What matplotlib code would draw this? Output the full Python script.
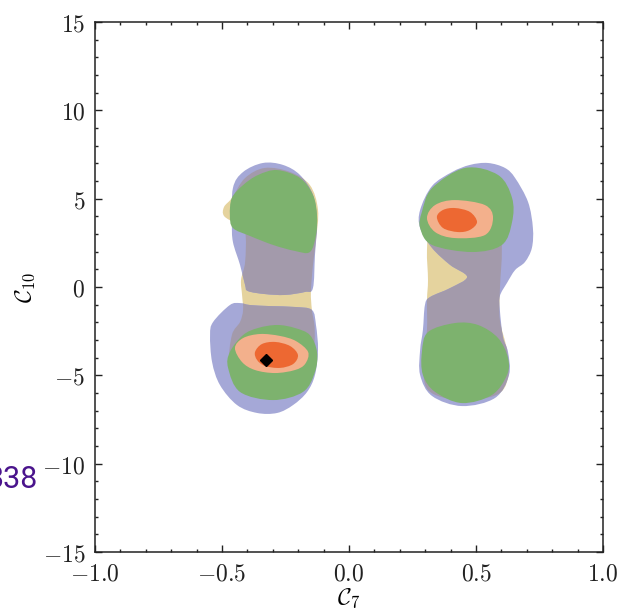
import matplotlib
matplotlib.use("Agg")
import matplotlib.pyplot as plt
from matplotlib.path import Path
from matplotlib.patches import PathPatch
from matplotlib.ticker import MultipleLocator, FuncFormatter

plt.rcParams['mathtext.fontset'] = 'cm'

# ---------------- data (C7, C10) ----------------
# blue region (left: upper and lower lobes, right: one lobe)
blue_ul_x = [-0.339, -0.260, -0.193, -0.142, -0.126, -0.134, -0.142, -0.173, -0.252, -0.331, -0.398, -0.409, -0.429, -0.457, -0.461, -0.457, -0.417]
blue_ul_y = [7.02, 6.91, 6.34, 5.21, 3.68, 1.81, -0.06, -0.28, -0.45, -0.40, -0.23, 0.11, 1.25, 2.55, 3.68, 5.60, 6.51]
blue_ll_x = [-0.429, -0.469, -0.535, -0.547, -0.539, -0.508, -0.441, -0.362, -0.283, -0.220, -0.165, -0.134, -0.122, -0.130, -0.146, -0.213, -0.311, -0.390]
blue_ll_y = [-0.91, -1.02, -1.98, -2.72, -4.25, -5.55, -6.68, -7.13, -7.13, -6.68, -5.94, -4.98, -3.57, -2.15, -1.30, -1.13, -1.08, -1.02]
blue_r_x = [0.547, 0.614, 0.654, 0.705, 0.724, 0.720, 0.693, 0.654, 0.622, 0.594, 0.594, 0.606, 0.626, 0.630, 0.575, 0.445, 0.327, 0.280, 0.280, 0.291, 0.299, 0.319, 0.398, 0.465, 0.398, 0.327, 0.280, 0.280, 0.327, 0.406, 0.476]
blue_r_y = [7.02, 6.74, 6.17, 4.81, 3.34, 2.21, 1.42, 0.96, 0.23, -0.51, -1.30, -2.83, -3.68, -4.98, -6.28, -6.74, -6.17, -4.98, -3.57, -2.43, -1.02, -0.57, -0.06, 0.57, 1.25, 2.21, 3.34, 4.36, 5.72, 6.51, 6.91]

# tan region
tan_l_x = [-0.331, -0.232, -0.154, -0.122, -0.130, -0.142, -0.150, -0.146, -0.135, -0.145, -0.200, -0.311, -0.420, -0.470, -0.461, -0.429, -0.417, -0.421, -0.425, -0.409, -0.409, -0.445, -0.492, -0.492, -0.461, -0.409]
tan_l_y = [6.74, 6.51, 5.77, 4.36, 2.66, 1.25, -0.28, -1.30, -2.43, -4.13, -5.70, -6.30, -5.90, -4.42, -2.72, -1.98, -1.30, -0.45, 0.40, 1.42, 3.11, 3.57, 4.02, 4.53, 5.04, 6.17]
tan_r_x = [0.358, 0.555, 0.600, 0.594, 0.594, 0.622, 0.626, 0.580, 0.437, 0.311, 0.295, 0.307, 0.307, 0.311, 0.307, 0.319]
tan_r_y = [4.92, 4.92, 2.66, -0.17, -1.87, -3.57, -5.15, -6.11, -6.40, -5.83, -4.13, -2.43, -0.74, 0.40, 2.09, 3.79]

# green regions
green_ul_x = [-0.283, -0.193, -0.142, -0.126, -0.130, -0.154, -0.213, -0.299, -0.390, -0.457, -0.469, -0.461, -0.417, -0.358]
green_ul_y = [6.62, 6.17, 5.21, 4.08, 2.94, 1.98, 2.04, 2.38, 2.89, 3.34, 4.08, 5.04, 5.77, 6.34]
green_ll_x = [-0.283, -0.213, -0.154, -0.126, -0.134, -0.181, -0.299, -0.429, -0.476, -0.469, -0.417, -0.358]
green_ll_y = [-2.15, -2.32, -2.72, -3.68, -4.81, -5.94, -6.40, -5.94, -4.58, -3.68, -2.72, -2.32]
green_ur_x = [0.457, 0.587, 0.642, 0.642, 0.602, 0.484, 0.327, 0.280, 0.287, 0.327]
green_ur_y = [6.74, 6.34, 5.04, 3.68, 2.38, 1.98, 2.38, 3.34, 4.25, 5.60]
green_lr_x = [0.417, 0.508, 0.587, 0.626, 0.622, 0.563, 0.445, 0.339, 0.291, 0.287, 0.311]
green_lr_y = [-2.04, -2.15, -2.89, -4.02, -4.98, -6.11, -6.57, -5.94, -4.98, -3.68, -2.55]

# salmon (outer) and orange (inner) regions
salmon_l_x = [-0.449, -0.417, -0.350, -0.272, -0.209, -0.161, -0.173, -0.213, -0.291, -0.370, -0.421]
salmon_l_y = [-3.45, -2.89, -2.66, -2.77, -3.06, -3.68, -4.36, -4.70, -4.87, -4.70, -4.25]
salmon_r_x = [0.307, 0.339, 0.417, 0.535, 0.567, 0.535, 0.417, 0.339]
salmon_r_y = [3.91, 4.64, 4.92, 4.64, 3.91, 2.94, 2.77, 3.11]
orange_l_x = [-0.370, -0.343, -0.291, -0.232, -0.201, -0.220, -0.272, -0.331, -0.362]
orange_l_y = [-3.68, -3.23, -3.11, -3.34, -3.85, -4.36, -4.58, -4.47, -4.13]
orange_r_x = [0.346, 0.370, 0.417, 0.476, 0.504, 0.476, 0.429, 0.370]
orange_r_y = [3.96, 4.36, 4.47, 4.25, 3.68, 3.23, 3.11, 3.34]

# best-fit point
best_x = [-0.327]
best_y = [-4.13]

x_ticks = [-1.0, -0.5, 0.0, 0.5, 1.0]
y_ticks = [-15, -10, -5, 0, 5, 10, 15]

# ---------------- styles ----------------
C_BLUE = '#a5a8d7'
C_GREY = '#a39aab'
C_TAN = '#e5d39e'
C_GREEN = '#7db26e'
C_SALMON = '#f3b08c'
C_ORANGE = '#ed6832'


def smooth_path(xs, ys):
    # closed Catmull-Rom curve through the outline points, drawn as cubic Beziers
    pts = list(zip(xs, ys))
    n = len(pts)
    verts = [pts[0]]
    codes = [Path.MOVETO]
    for i in range(n):
        p0 = pts[(i - 1) % n]
        p1 = pts[i]
        p2 = pts[(i + 1) % n]
        p3 = pts[(i + 2) % n]
        c1 = (p1[0] + (p2[0] - p0[0]) / 6, p1[1] + (p2[1] - p0[1]) / 6)
        c2 = (p2[0] - (p3[0] - p1[0]) / 6, p2[1] - (p3[1] - p1[1]) / 6)
        verts += [c1, c2, p2]
        codes += [Path.CURVE4, Path.CURVE4, Path.CURVE4]
    verts.append(pts[0])
    codes.append(Path.CLOSEPOLY)
    return Path(verts, codes)


fig = plt.figure(figsize=(6.27, 6.09), dpi=100)
ax = fig.add_axes([95 / 627, 1 - 552 / 609, 508 / 627, 530 / 609])


def add(xs, ys, color, z, clip=None):
    p = PathPatch(smooth_path(xs, ys), facecolor=color, edgecolor='none', zorder=z)
    ax.add_patch(p)
    if clip is not None:
        p.set_clip_path(clip)
    return p

add(tan_l_x, tan_l_y, C_TAN, 1)
add(tan_r_x, tan_r_y, C_TAN, 1)
b1 = add(blue_ul_x, blue_ul_y, C_BLUE, 2)
b2 = add(blue_ll_x, blue_ll_y, C_BLUE, 2)
b3 = add(blue_r_x, blue_r_y, C_BLUE, 2)
add(tan_l_x, tan_l_y, C_GREY, 3, clip=b1)
add(tan_l_x, tan_l_y, C_GREY, 3, clip=b2)
add(tan_r_x, tan_r_y, C_GREY, 3, clip=b3)
for gx, gy in [(green_ul_x, green_ul_y), (green_ll_x, green_ll_y), (green_ur_x, green_ur_y), (green_lr_x, green_lr_y)]:
    add(gx, gy, C_GREEN, 4)
add(salmon_l_x, salmon_l_y, C_SALMON, 5)
add(salmon_r_x, salmon_r_y, C_SALMON, 5)
add(orange_l_x, orange_l_y, C_ORANGE, 6)
add(orange_r_x, orange_r_y, C_ORANGE, 6)
ax.plot(best_x, best_y, marker='D', color='black', markersize=6.5, linestyle='none', zorder=7)

ax.set_xlim(-1, 1)
ax.set_ylim(-15, 15)
ax.set_xticks(x_ticks)
ax.set_yticks(y_ticks)
ax.xaxis.set_minor_locator(MultipleLocator(0.1))
ax.yaxis.set_minor_locator(MultipleLocator(1))
ax.xaxis.set_major_formatter(FuncFormatter(lambda v, p: r'$%.1f$' % v))
ax.yaxis.set_major_formatter(FuncFormatter(lambda v, p: r'$%d$' % round(v)))
ax.tick_params(which='both', direction='in', top=True, right=True, color='#222222', width=1.0)
ax.tick_params(which='major', length=5, labelsize=17, pad=7, labelcolor='#222222')
ax.tick_params(which='minor', length=2.5)
for s in ax.spines.values():
    s.set_linewidth(1.1)
    s.set_color('#222222')

ax.set_xlabel(r'$\mathcal{C}_7$', fontsize=17, labelpad=0)
ax.set_ylabel(r'$\mathcal{C}_{10}$', fontsize=17, labelpad=4)

fig.text(38 / 627, 1 - 479 / 609, '338', ha='right', va='center', fontsize=22,
         color='#4a148c', family='Roboto')

fig.savefig('out.png', dpi=100)
